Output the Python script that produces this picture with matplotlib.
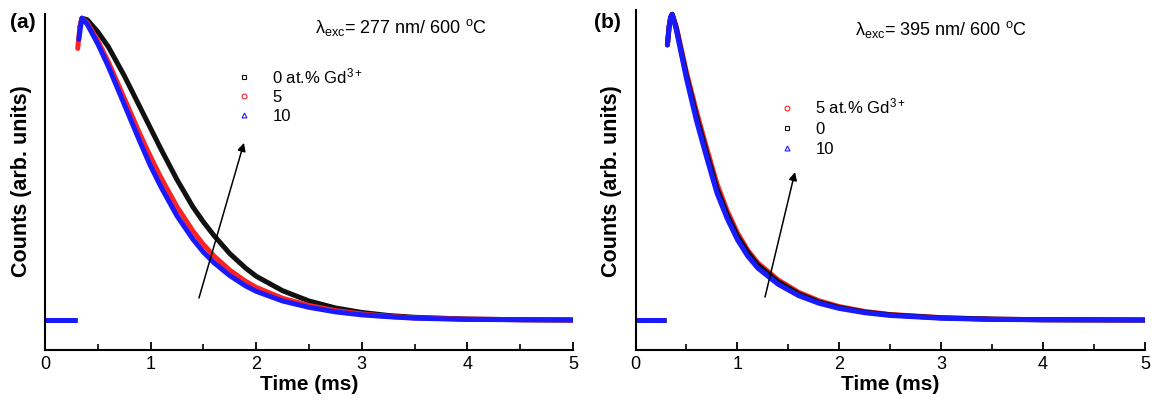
import matplotlib
matplotlib.use("Agg")
import matplotlib.pyplot as plt
from matplotlib.lines import Line2D
from matplotlib.ticker import MultipleLocator

plt.rcParams['font.family'] = ['Liberation Sans', 'DejaVu Sans']
plt.rcParams['mathtext.fontset'] = 'custom'
plt.rcParams['mathtext.rm'] = 'Liberation Sans'
plt.rcParams['mathtext.it'] = 'Liberation Sans:italic'
plt.rcParams['mathtext.bf'] = 'Liberation Sans:bold'

# ---------- data (normalised counts, time in ms) ----------
base_t = [0.0, 0.1, 0.2, 0.3]
base_v = [0.0, 0.0, 0.0, 0.0]

# panel (a): lambda_exc = 277 nm
a_black_t = [0.33, 0.35, 0.4, 0.5, 0.6, 0.75, 0.9, 1.0, 1.1, 1.25, 1.4, 1.5, 1.6, 1.75, 1.9, 2.0,
             2.25, 2.5, 2.75, 3.0, 3.25, 3.5, 4.0, 4.5, 5.0]
a_black_v = [0.97, 1.0, 0.995, 0.955, 0.905, 0.81, 0.705, 0.635, 0.565, 0.465, 0.375, 0.325, 0.28,
             0.22, 0.172, 0.145, 0.097, 0.063, 0.04, 0.025, 0.015, 0.009, 0.003, 0.001, 0.0]
a_red_t = [0.31, 0.33, 0.35, 0.4, 0.5, 0.6, 0.75, 0.9, 1.0, 1.1, 1.25, 1.4, 1.5, 1.6, 1.75, 1.9, 2.0,
           2.25, 2.5, 2.75, 3.0, 3.25, 3.5, 4.0, 4.5, 5.0]
a_red_v = [0.90, 0.97, 1.0, 0.985, 0.925, 0.855, 0.735, 0.615, 0.54, 0.47, 0.375, 0.295, 0.25, 0.212,
           0.165, 0.128, 0.108, 0.072, 0.048, 0.031, 0.02, 0.012, 0.007, 0.003, 0.001, 0.0]
a_blue_t = [0.32, 0.34, 0.35, 0.4, 0.5, 0.6, 0.75, 0.9, 1.0, 1.1, 1.25, 1.4, 1.5, 1.6, 1.75, 1.9, 2.0,
            2.25, 2.5, 2.75, 3.0, 3.25, 3.5, 4.0, 4.5, 5.0]
a_blue_v = [0.93, 0.98, 1.0, 0.98, 0.915, 0.84, 0.715, 0.59, 0.51, 0.44, 0.345, 0.268, 0.225, 0.19,
            0.147, 0.113, 0.095, 0.063, 0.042, 0.027, 0.017, 0.011, 0.006, 0.002, 0.001, 0.0]

# panel (b): lambda_exc = 395 nm
b_t = [0.313, 0.33, 0.345, 0.36, 0.4, 0.5, 0.6, 0.7, 0.8, 0.9, 1.0, 1.1, 1.2, 1.4, 1.6, 1.8, 2.0,
       2.25, 2.5, 3.0, 3.5, 4.0, 5.0]
b_red_v = [0.90, 0.96, 0.99, 1.0, 0.96, 0.81, 0.68, 0.56, 0.445, 0.357, 0.285, 0.229, 0.187, 0.131,
           0.091, 0.063, 0.044, 0.028, 0.018, 0.008, 0.003, 0.001, 0.0]
b_black_v = [0.90, 0.96, 0.99, 1.0, 0.955, 0.80, 0.665, 0.545, 0.43, 0.345, 0.275, 0.222, 0.18, 0.125,
             0.086, 0.059, 0.041, 0.026, 0.017, 0.007, 0.003, 0.001, 0.0]
b_blue_v = [0.90, 0.96, 0.99, 1.0, 0.95, 0.79, 0.65, 0.53, 0.415, 0.332, 0.263, 0.21, 0.17, 0.117,
            0.080, 0.055, 0.038, 0.024, 0.015, 0.006, 0.002, 0.001, 0.0]

legend_a = ['0 at.% Gd$^{3+}$', '5', '10']
legend_b = ['5 at.% Gd$^{3+}$', '0', '10']
xticks = [0, 1, 2, 3, 4, 5]

BLACK = '#111111'
RED = '#ff2222'
BLUE = '#1a1aff'

W, H = 1156, 409
fig = plt.figure(figsize=(W / 100, H / 100), dpi=100)

def px_axes(l, r, t, b):
    return fig.add_axes([l / W, 1 - b / H, (r - l) / W, (b - t) / H])

ax1 = px_axes(45, 573, 14, 350)
ax2 = px_axes(635.5, 1145, 10, 350)

LW = 3.6

def style(ax, ylo, yhi):
    ax.set_xlim(0, 5)
    ax.set_ylim(ylo, yhi)
    for s in ['top', 'right']:
        ax.spines[s].set_visible(False)
    for s in ['left', 'bottom']:
        ax.spines[s].set_linewidth(1.5)
    ax.set_yticks([])
    ax.set_xticks(xticks)
    ax.xaxis.set_minor_locator(MultipleLocator(0.5))
    ax.tick_params(axis='x', which='major', direction='in', length=6, width=1.3,
                   labelsize=13, pad=4)
    ax.tick_params(axis='x', which='minor', direction='in', length=4, width=1.2)
    ax.set_xlabel('Time (ms)', fontsize=15, fontweight='bold', labelpad=2)

def curve(ax, t, v, c):
    ax.plot(t, v, color=c, lw=LW, solid_joinstyle='round', solid_capstyle='round')

# panel (a)
for c in (BLACK, RED, BLUE):
    ax1.plot(base_t, base_v, color=c, lw=LW, solid_capstyle='butt')
curve(ax1, a_black_t, a_black_v, BLACK)
curve(ax1, a_red_t, a_red_v, RED)
curve(ax1, a_blue_t, a_blue_v, BLUE)
style(ax1, -0.0994, 1.014)

h_a = [Line2D([], [], ls='none', marker='s', mfc='none', mec=BLACK, ms=3.5, mew=0.8),
       Line2D([], [], ls='none', marker='o', mfc='none', mec=RED, ms=3.5, mew=0.8),
       Line2D([], [], ls='none', marker='^', mfc='none', mec=BLUE, ms=3.5, mew=0.8)]
ax1.legend(h_a, legend_a, loc='upper left', bbox_to_anchor=(0.361, 0.845), frameon=False,
           fontsize=12, handlelength=1.0, handletextpad=1.2, labelspacing=0.25,
           borderpad=0, borderaxespad=0)
ax1.text(0.511, 0.943, 'λ$_{\\mathrm{exc}}$= 277 nm/ 600 $^{\\mathrm{o}}$C', transform=ax1.transAxes,
         fontsize=13, va='baseline', ha='left')
ax1.annotate('', xy=(1.884, 0.587), xytext=(1.458, 0.073),
             arrowprops=dict(arrowstyle='-|>', color='black', lw=1.1, mutation_scale=12,
                             shrinkA=0, shrinkB=0))

# panel (b)
for c in (RED, BLACK, BLUE):
    ax2.plot(base_t, base_v, color=c, lw=LW, solid_capstyle='butt')
curve(ax2, b_t, b_red_v, RED)
curve(ax2, b_t, b_black_v, BLACK)
curve(ax2, b_t, b_blue_v, BLUE)
style(ax2, -0.098, 1.014)

h_b = [Line2D([], [], ls='none', marker='o', mfc='none', mec=RED, ms=3.5, mew=0.8),
       Line2D([], [], ls='none', marker='s', mfc='none', mec=BLACK, ms=3.5, mew=0.8),
       Line2D([], [], ls='none', marker='^', mfc='none', mec=BLUE, ms=3.5, mew=0.8)]
ax2.legend(h_b, legend_b, loc='upper left', bbox_to_anchor=(0.281, 0.745), frameon=False,
           fontsize=12, handlelength=1.0, handletextpad=1.2, labelspacing=0.3,
           borderpad=0, borderaxespad=0)
ax2.text(0.431, 0.926, 'λ$_{\\mathrm{exc}}$= 395 nm/ 600 $^{\\mathrm{o}}$C', transform=ax2.transAxes,
         fontsize=13, va='baseline', ha='left')
ax2.annotate('', xy=(1.565, 0.484), xytext=(1.271, 0.075),
             arrowprops=dict(arrowstyle='-|>', color='black', lw=1.1, mutation_scale=12,
                             shrinkA=0, shrinkB=0))

# labels
fig.text(22 / W, 1 - 181 / H, 'Counts (arb. units)', rotation=90, ha='center', va='center',
         fontsize=15.5, fontweight='bold')
fig.text(612 / W, 1 - 181 / H, 'Counts (arb. units)', rotation=90, ha='center', va='center',
         fontsize=15.5, fontweight='bold')
fig.text(10 / W, 1 - 28 / H, '(a)', fontsize=15, fontweight='bold', ha='left', va='baseline')
fig.text(594 / W, 1 - 28 / H, '(b)', fontsize=15, fontweight='bold', ha='left', va='baseline')

fig.savefig('out.png', dpi=100)
